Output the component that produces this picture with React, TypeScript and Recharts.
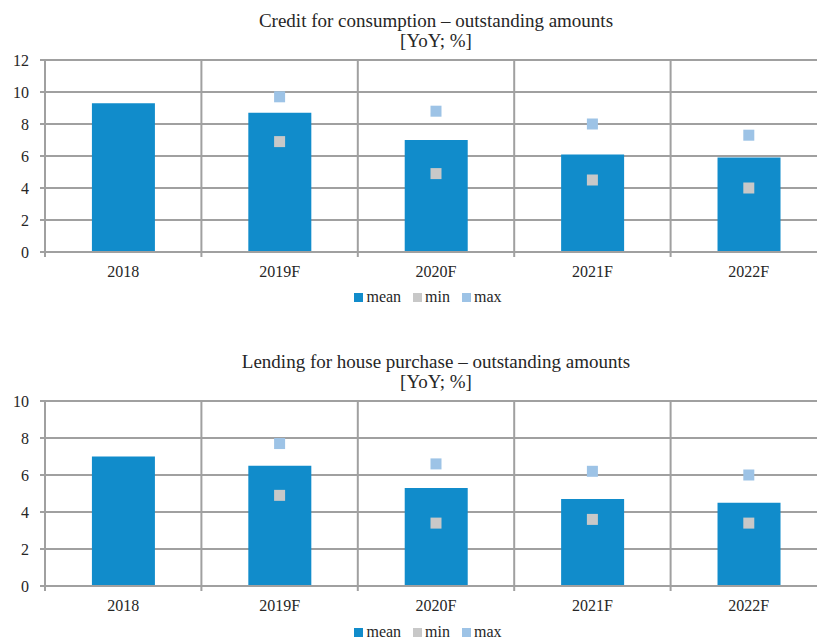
import { Bar, CartesianGrid, ComposedChart, Scatter, XAxis, YAxis } from "recharts";

const years = ["2018", "2019F", "2020F", "2021F", "2022F"];

const consumptionMean = [9.3, 8.7, 7.0, 6.1, 5.9];
const consumptionMin = [null, 6.9, 4.9, 4.5, 4.0];
const consumptionMax = [null, 9.7, 8.8, 8.0, 7.3];
const consumptionTicks = [0, 2, 4, 6, 8, 10, 12];

const housingMean = [7.0, 6.5, 5.3, 4.7, 4.5];
const housingMin = [null, 4.9, 3.4, 3.6, 3.4];
const housingMax = [null, 7.7, 6.6, 6.2, 6.0];
const housingTicks = [0, 2, 4, 6, 8, 10];

const FONT = '"Liberation Serif", "DejaVu Serif", serif';
const TEXT = "#262626";
const GRID = "#a0a0a0";
const MEAN_COLOR = "#118ccb";
const MIN_COLOR = "#c8c8c8";
const MAX_COLOR = "#9dc3e6";

type Row = { year: string; mean: number; min: number | null; max: number | null };

function buildRows(mean: number[], min: (number | null)[], max: (number | null)[]): Row[] {
  return years.map((year, i) => ({ year, mean: mean[i], min: min[i], max: max[i] }));
}

// square marker, skipped when the value is missing
function squareShape(color: string, key: "min" | "max") {
  return (props: any) => {
    const { cx, cy, payload } = props;
    if (payload?.[key] == null || cx == null || cy == null || Number.isNaN(cy)) {
      return <g />;
    }
    return <rect x={cx - 5.5} y={cy - 5.5} width={11} height={11} fill={color} />;
  };
}

function LegendRow({ top }: { top: number }) {
  const items = [
    { label: "mean", color: MEAN_COLOR },
    { label: "min", color: MIN_COLOR },
    { label: "max", color: MAX_COLOR }
  ];
  return (
    <div
      style={{
        position: "absolute",
        top,
        left: 0,
        width: 856,
        height: 16,
        lineHeight: "16px",
        display: "flex",
        justifyContent: "center",
        alignItems: "center",
        gap: 12,
        fontFamily: FONT,
        fontSize: 16,
        color: TEXT
      }}
    >
      {items.map((item) => (
        <span key={item.label} style={{ display: "flex", alignItems: "center", gap: 3 }}>
          <span style={{ width: 9, height: 9, background: item.color, display: "inline-block" }} />
          {item.label}
        </span>
      ))}
    </div>
  );
}

type PanelProps = {
  title: string;
  top: number;
  height: number;
  marginTop: number;
  marginBottom: number;
  titleTop: number;
  legendTop: number;
  rows: Row[];
  ticks: number[];
};

function Panel({ title, top, height, marginTop, marginBottom, titleTop, legendTop, rows, ticks }: PanelProps) {
  const n = rows.length;
  return (
    <div style={{ position: "absolute", left: 0, top, width: 840, height }}>
      <div
        style={{
          position: "absolute",
          top: titleTop,
          left: 0,
          width: 872,
          textAlign: "center",
          fontFamily: FONT,
          fontSize: 19,
          lineHeight: "20px",
          color: TEXT
        }}
      >
        {title}
        <br />
        [YoY; %]
      </div>
      <ComposedChart
        width={840}
        height={height}
        data={rows}
        margin={{ top: marginTop, right: 13, bottom: marginBottom, left: 0 }}
        barCategoryGap="30%"
      >
        <CartesianGrid
          stroke={GRID}
          strokeWidth={2}
          verticalCoordinatesGenerator={({ offset }: any) =>
            Array.from({ length: n + 1 }, (_, i) => offset.left + (i * offset.width) / n)
          }
          vertical={(p: any) => (
            <line
              key={`v-${p.index ?? p.x1}`}
              x1={p.x1}
              x2={p.x2}
              y1={p.y1}
              y2={p.y2 + 5}
              stroke={GRID}
              strokeWidth={2}
            />
          )}
        />
        <XAxis
          dataKey="year"
          tickLine={false}
          axisLine={{ stroke: GRID, strokeWidth: 2 }}
          tickMargin={8}
          tick={{ fill: TEXT, fontSize: 16, fontFamily: FONT }}
        />
        <YAxis
          width={45}
          domain={[ticks[0], ticks[ticks.length - 1]]}
          ticks={ticks}
          interval={0}
          tickSize={5}
          tickMargin={11}
          axisLine={{ stroke: GRID, strokeWidth: 2 }}
          tickLine={{ stroke: GRID, strokeWidth: 2 }}
          tick={{ fill: TEXT, fontSize: 16, fontFamily: FONT }}
        />
        <Bar dataKey="mean" fill={MEAN_COLOR} isAnimationActive={false} />
        <Scatter dataKey="min" fill={MIN_COLOR} shape={squareShape(MIN_COLOR, "min")} isAnimationActive={false} />
        <Scatter dataKey="max" fill={MAX_COLOR} shape={squareShape(MAX_COLOR, "max")} isAnimationActive={false} />
      </ComposedChart>
      <LegendRow top={legendTop} />
    </div>
  );
}

export default function App() {
  const consumption = buildRows(consumptionMean, consumptionMin, consumptionMax);
  const housing = buildRows(housingMean, housingMin, housingMax);

  return (
    <div style={{ position: "relative", width: 817, height: 640, overflow: "hidden", background: "#fff" }}>
      <style>{`body { margin: 0; }`}</style>
      <Panel
        title="Credit for consumption – outstanding amounts"
        top={0}
        height={320}
        marginTop={60}
        marginBottom={38}
        titleTop={11}
        legendTop={289}
        rows={consumption}
        ticks={consumptionTicks}
      />
      <Panel
        title="Lending for house purchase – outstanding amounts"
        top={330}
        height={310}
        marginTop={71}
        marginBottom={24}
        titleTop={22}
        legendTop={294}
        rows={housing}
        ticks={housingTicks}
      />
    </div>
  );
}
